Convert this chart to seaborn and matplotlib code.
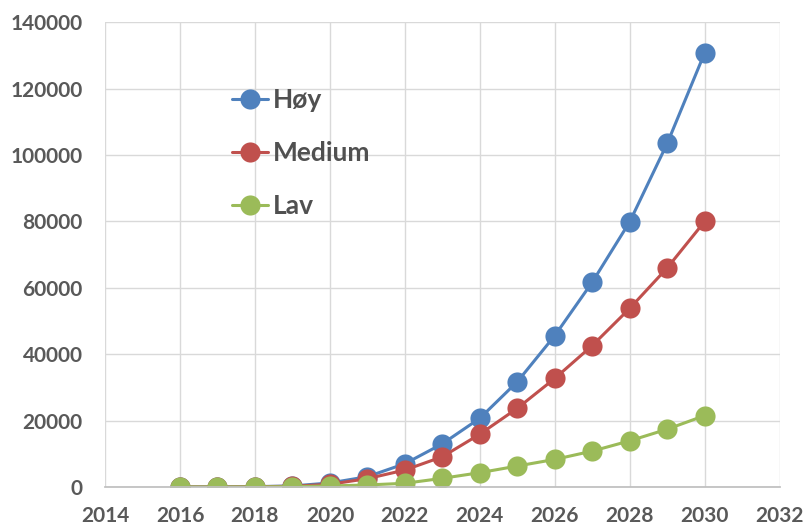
import seaborn as sns
import pandas as pd
import matplotlib.pyplot as plt

years = list(range(2016, 2031))
hoy = [0, 0, 100, 300, 1200, 3100, 7000, 13000, 20700, 31700, 45600, 61700, 79900, 103500, 130800]
medium = [0, 0, 80, 200, 800, 2500, 5100, 9100, 15900, 23700, 32700, 42600, 53800, 66000, 80000]
lav = [0, 0, 30, 100, 300, 600, 1100, 2600, 4300, 6300, 8300, 10800, 13900, 17400, 21500]
series_names = ["Høy", "Medium", "Lav"]
colors = ["#4F81BD", "#C0504D", "#9BBB59"]

df = pd.DataFrame({"year": years * 3,
                   "value": hoy + medium + lav,
                   "scenario": [n for n in series_names for _ in years]})

sns.set_theme(style="whitegrid")
plt.rcParams['font.family'] = ['Lato', 'DejaVu Sans']

fig, ax = plt.subplots(figsize=(8.08, 5.27), dpi=100)
fig.subplots_adjust(left=0.13, right=0.965, bottom=0.076, top=0.958)

sns.lineplot(data=df, x="year", y="value", hue="scenario", hue_order=series_names,
             palette=colors, marker="o", markersize=14.5, markeredgewidth=0,
             linewidth=2.2, ax=ax)

ax.set(xlabel="", ylabel="", xlim=(2014, 2032), ylim=(0, 140000))
ax.set_xticks(range(2014, 2033, 2))
ax.set_yticks(range(0, 140001, 20000))
ax.grid(True, color="#d9d9d9", linewidth=1)
for side in ["top", "right", "left"]:
    ax.spines[side].set_visible(False)
ax.spines["bottom"].set_color("#bfbfbf")
ax.tick_params(axis="both", length=0, labelsize=15, labelcolor="#595959")
for lbl in ax.get_xticklabels() + ax.get_yticklabels():
    lbl.set_fontweight("bold")
ax.tick_params(axis="y", pad=16)
ax.tick_params(axis="x", pad=14)

handles, labels = ax.get_legend_handles_labels()
leg = ax.legend(handles, labels, loc="upper left", bbox_to_anchor=(0.188, 0.858),
                frameon=False, borderpad=0, borderaxespad=0, labelspacing=1.1,
                handlelength=1.36, handletextpad=0.2,
                prop={"size": 19, "weight": "bold"})
for t in leg.get_texts():
    t.set_color("#505050")

plt.savefig("out.png", dpi=100)
